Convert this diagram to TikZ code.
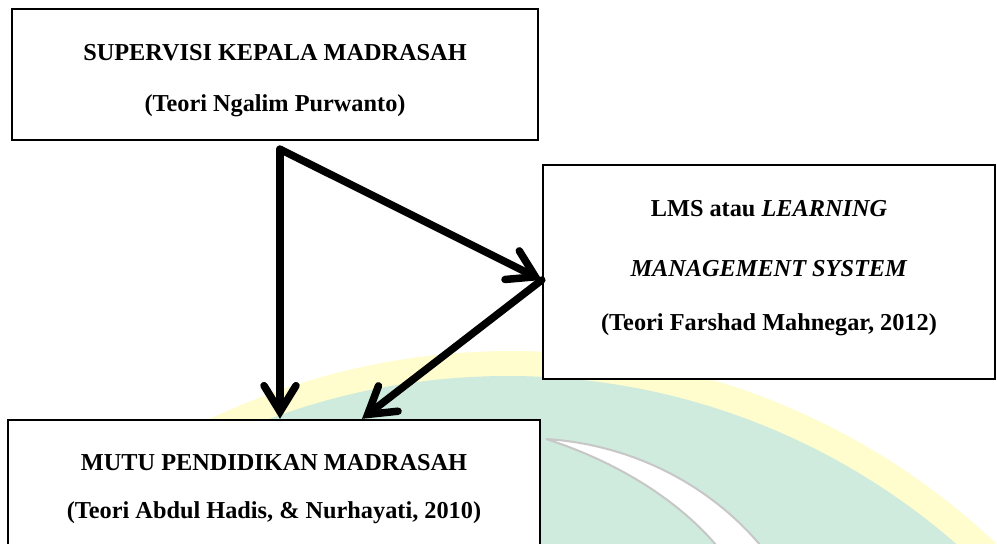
\documentclass[tikz,border=0pt]{standalone}
\usepackage{fontspec}
\setmainfont{Liberation Serif}
\usetikzlibrary{arrows.meta,positioning}
\definecolor{wmyellow}{RGB}{255,252,205}
\definecolor{wmgreen}{RGB}{207,235,221}
\tikzset{
  kotak/.style={draw,line width=2.4pt,fill=white,align=center,inner sep=0pt,
    font=\fontsize{24.3}{51}\selectfont\bfseries},
  panah/.style={line width=7.5pt,line cap=round,line join=round,
    -{Straight Barb[length=26pt,width=32pt,line cap=round]}}
}
\begin{document}
\begin{tikzpicture}[x=1pt,y=-1pt]
\useasboundingbox (0,0) rectangle (997,544);
\clip (0,0) rectangle (997,544);
% watermark di belakang
\fill[wmyellow] (512,1056) circle (705);
\fill[wmgreen] (508,1058) circle (682);
\draw[fill=white,draw=black!22,line width=2pt] (546,439) .. controls (640,445) and (722,492) .. (772,560)
  -- (728,560) .. controls (684,500) and (612,460) .. (546,439);
% kotak
\node[kotak,minimum width=526pt,minimum height=131pt,text height=79pt] (sup) at (275,74.5){SUPERVISI KEPALA MADRASAH\\(Teori Ngalim Purwanto)};
\node[kotak,minimum width=452pt,minimum height=214pt,text height=122pt,font=\fontsize{24.3}{57}\selectfont\bfseries] (lms) at (769,272){LMS atau \textit{LEARNING}\\[3.5pt]\textit{MANAGEMENT SYSTEM}\\[-3.5pt](Teori Farshad Mahnegar, 2012)};
\node[kotak,minimum width=532pt,minimum height=132pt,text height=70pt,font=\fontsize{24.3}{48}\selectfont\bfseries] (mutu) at (274,486){MUTU PENDIDIKAN MADRASAH\\(Teori Abdul Hadis, \& Nurhayati, 2010)};
% panah
\coordinate (cabang) at ([xshift=5pt,yshift=-8pt]sup.south);
\draw[panah] (cabang) -- (cabang |- mutu.north);
\draw[panah] (cabang) -- ([yshift=-8pt]lms.west);
\draw[panah] ([yshift=-8pt]lms.west) -- ([xshift=88pt]mutu.north);
\end{tikzpicture}
\end{document}
